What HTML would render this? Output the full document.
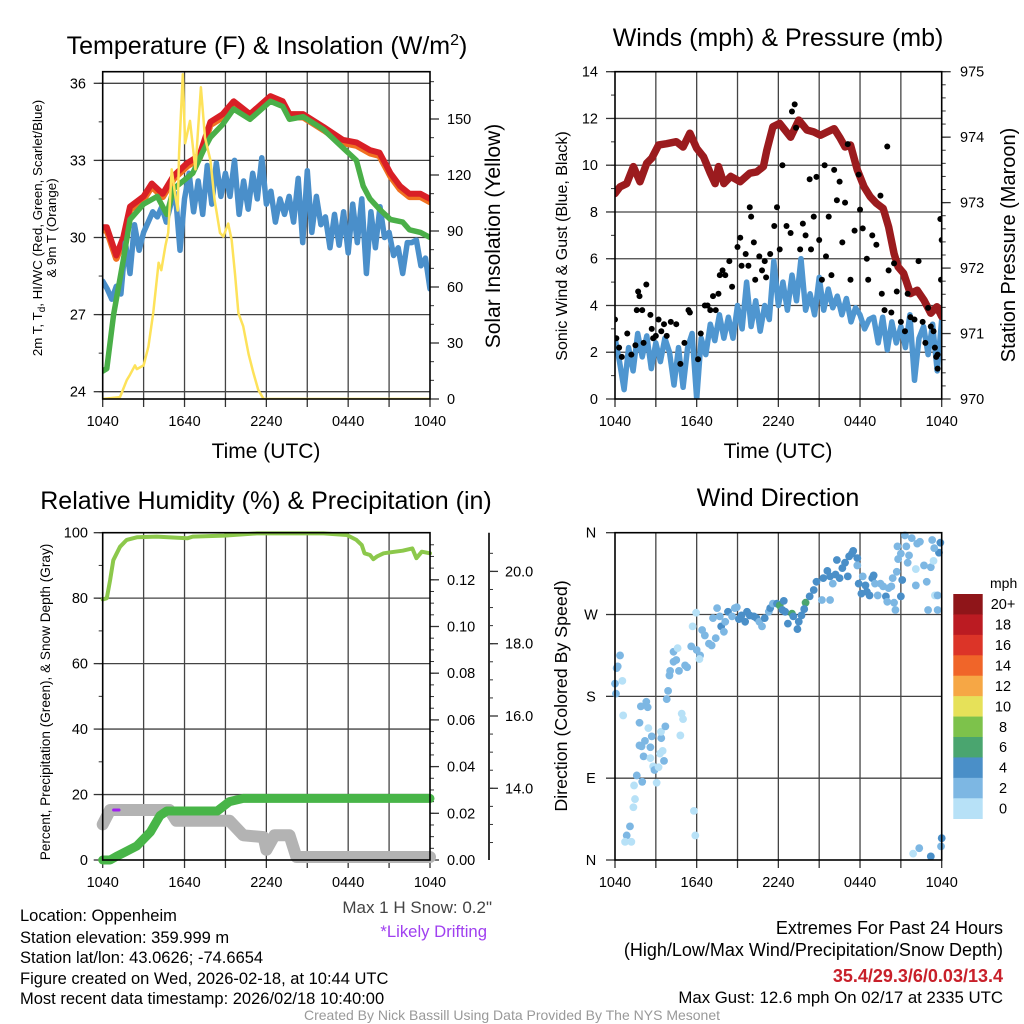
<!DOCTYPE html>
<html><head><meta charset="utf-8"><title>Meteogram</title>
<style>
html,body{margin:0;padding:0;background:#fff;}
svg{display:block;font-family:"Liberation Sans",Arial,sans-serif;}
</style></head>
<body>
<svg id="chart" width="1024" height="1024" viewBox="0 0 1024 1024" xmlns="http://www.w3.org/2000/svg">
<rect x="0" y="0" width="1024" height="1024" fill="#fff"/>
<defs>
<clipPath id="c1"><rect x="102.7" y="71.7" width="327.3" height="327.3"/></clipPath>
<clipPath id="c2"><rect x="615" y="71.7" width="326.7" height="327.3"/></clipPath>
<clipPath id="c3"><rect x="96" y="526" width="345" height="345"/></clipPath>
<clipPath id="c4"><rect x="609" y="526" width="340" height="340"/></clipPath>
</defs>
<!-- titles -->
<text x="267" y="54" font-size="25" text-anchor="middle">Temperature (F) &amp; Insolation (W/m<tspan dy="-9" font-size="16">2</tspan><tspan dy="9">)</tspan></text>
<text x="778" y="46" font-size="25" text-anchor="middle">Winds (mph) &amp; Pressure (mb)</text>
<text x="266" y="509" font-size="25" text-anchor="middle">Relative Humidity (%) &amp; Precipitation (in)</text>
<text x="778" y="506" font-size="25" text-anchor="middle">Wind Direction</text>
<!-- axis titles -->
<text x="266" y="458" font-size="21" text-anchor="middle">Time (UTC)</text>
<text x="778" y="458" font-size="21" text-anchor="middle">Time (UTC)</text>
<text transform="translate(42,228) rotate(-90)" font-size="13.3" text-anchor="middle">2m T, T<tspan dy="3" font-size="10">d</tspan><tspan dy="-3">, HI/WC (Red, Green, Scarlet/Blue)</tspan></text>
<text transform="translate(56,228) rotate(-90)" font-size="13.3" text-anchor="middle">&amp; 9m T (Orange)</text>
<text transform="translate(500,236) rotate(-90)" font-size="21" text-anchor="middle">Solar Insolation (Yellow)</text>
<text transform="translate(567,246) rotate(-90)" font-size="16" text-anchor="middle">Sonic Wind &amp; Gust (Blue, Black)</text>
<text transform="translate(1015,245) rotate(-90)" font-size="20" text-anchor="middle">Station Pressure (Maroon)</text>
<text transform="translate(50,702) rotate(-90)" font-size="13.6" text-anchor="middle">Percent, Precipitation (Green), &amp; Snow Depth (Gray)</text>
<text transform="translate(567,696) rotate(-90)" font-size="17.8" text-anchor="middle">Direction (Colored By Speed)</text>
<!-- info text -->
<g font-size="16.5" fill="#000">
<text x="20" y="921">Location: Oppenheim</text>
<text x="20" y="943">Station elevation: 359.999 m</text>
<text x="20" y="963">Station lat/lon: 43.0626; -74.6654</text>
<text x="20" y="984">Figure created on Wed, 2026-02-18, at 10:44 UTC</text>
<text x="20" y="1004">Most recent data timestamp: 2026/02/18 10:40:00</text>
</g>
<text x="492" y="913" font-size="17" fill="#444" text-anchor="end">Max 1 H Snow: 0.2"</text>
<text x="487" y="937" font-size="16.7" fill="#a040f0" text-anchor="end">*Likely Drifting</text>
<text x="1003" y="934" font-size="18" text-anchor="end">Extremes For Past 24 Hours</text>
<text x="1003" y="956" font-size="18" text-anchor="end">(High/Low/Max Wind/Precipitation/Snow Depth)</text>
<text x="1003" y="982" font-size="18" font-weight="bold" fill="#c8202a" text-anchor="end">35.4/29.3/6/0.03/13.4</text>
<text x="1003" y="1003" font-size="16.8" text-anchor="end">Max Gust: 12.6 mph On 02/17 at 2335 UTC</text>
<text x="512" y="1020" font-size="14" fill="#999" text-anchor="middle">Created By Nick Bassill Using Data Provided By The NYS Mesonet</text>
<text x="990" y="588" font-size="14">mph</text>
</svg>
<script>
// ---- Panel 1: temperature ----
const tempHours=[0,0.3,1.0,1.5,2.0,3.0,3.6,4.4,5.2,6.2,7.1,7.9,8.8,9.6,10.8,12.3,13.2,13.7,14.7,16.2,17.6,18.6,19.6,20.3,21.1,21.8,22.5,23.3,24];
const redTemp=[30.4,30.4,29.3,30.0,31.2,31.6,32.1,31.7,32.4,32.9,33.2,34.5,34.8,35.3,34.8,35.5,35.3,34.8,34.8,34.3,33.8,33.7,33.4,33.3,32.5,32.0,31.7,31.7,31.5];
const greenHours=[0,0.3,0.8,1.5,2.0,3.0,4.0,4.7,5.2,5.9,6.6,7.4,7.9,8.8,9.6,10.8,12.3,13.2,13.7,14.7,16.2,17.6,18.6,19.1,19.6,20.3,21.1,22.0,22.5,23.3,24];
const greenTemp=[24.8,24.9,27.0,29.1,30.7,31.3,31.6,30.9,31.9,32.2,32.5,33.4,33.9,34.4,35.0,34.6,35.3,35.1,34.6,34.7,34.2,33.5,33.0,32.0,31.5,31.1,30.7,30.6,30.3,30.2,30.0];
const blueTemp=[28.3,28.0,27.6,28.1,27.8,29.8,28.6,30.5,29.5,30.2,30.6,31.0,30.8,31.2,30.6,31.3,31.7,29.5,31.5,32.5,31.0,32.2,30.9,32.8,31.3,32.9,31.6,32.5,31.6,33.0,30.9,32.2,31.1,32.5,31.5,33.1,31.3,31.8,30.6,31.5,30.9,31.6,30.6,32.3,29.8,32.6,30.2,31.6,30.5,30.8,29.6,30.9,29.7,31.0,29.4,31.3,29.8,31.5,28.6,31.0,29.6,31.2,30.0,30.2,29.3,29.6,28.6,29.8,29.8,29.9,28.9,29.2,28.0];
const solarHours=[0,1.27,1.76,2.0,2.37,2.5,3.0,3.35,3.7,4.1,4.3,4.6,4.8,5.06,5.3,5.5,5.6,5.87,6.04,6.4,6.8,7.2,7.5,7.9,8.2,8.6,8.85,9.2,9.46,9.7,9.95,10.3,10.7,11.05,11.4,11.8,24];
const solarVals=[0,1,10,13,18,16,18,28,46,73,69,82,89,123,110,101,132,174,137,149,123,167,140,128,107,89,87,94,85,67,46,39,24,14,5,0,0];
const tempTicks=[24,27,30,33,36];
const solarTicks=[0,30,60,90,120,150];
const timeLabels=['1040','1640','2240','0440','1040'];
// ---- Panel 2: winds ----
const pressHours=[0,0.37,0.86,1.35,1.84,2.33,2.7,3.2,3.8,4.5,5.0,5.5,6.0,6.5,7.0,7.35,7.6,8.0,8.5,9.2,9.9,10.4,10.9,11.15,11.6,12.1,12.9,13.5,14.1,14.6,15.1,15.6,16.1,16.5,16.9,17.3,17.8,18.3,18.75,19.2,19.7,20.1,20.5,20.8,21.2,21.7,22.2,22.7,23.2,23.65,24];
const pressVals=[973.14,973.24,973.29,973.55,973.32,973.6,973.68,973.88,973.9,973.93,973.85,974.06,973.83,973.7,973.45,973.29,973.55,973.29,973.4,973.32,973.45,973.47,973.55,973.8,974.16,974.21,974.0,974.26,974.11,974.08,974.03,974.08,974.13,974.0,973.85,973.88,973.5,973.24,973.09,972.99,972.91,972.63,972.22,972.02,971.92,971.61,971.66,971.51,971.31,971.41,971.26];
const windVals=[2.6,1.6,0.4,2.2,1.2,2.8,1.8,2.7,1.3,2.4,1.6,2.6,2.0,0.6,2.2,0.5,2.2,2.8,0.0,2.6,1.9,3.2,2.5,3.6,2.6,3.5,2.6,4.0,3.0,5.0,3.1,4.2,2.9,4.0,3.4,5.9,4.0,5.0,3.8,5.3,4.2,6.0,3.8,4.5,3.6,5.2,3.8,4.7,3.9,4.4,3.6,4.3,3.3,3.9,3.6,3.0,3.4,3.5,2.4,3.5,2.1,3.3,2.4,3.1,2.2,3.6,0.8,2.6,3.1,1.9,3.2,1.2,3.4];
const gustHours=[0,0.1,0.3,0.5,0.9,1.2,1.5,1.6,1.7,1.8,2.0,2.1,2.3,2.6,2.7,2.8,3.0,3.2,3.4,3.6,3.8,4.1,4.5,4.8,5.1,5.4,5.5,6.1,6.3,6.6,6.8,7.0,7.2,7.4,7.6,7.7,7.9,8.1,8.4,8.6,9.0,9.2,9.3,9.6,9.8,9.9,10.0,10.2,10.3,10.6,10.8,11.0,11.1,11.4,11.7,11.9,12.1,12.3,12.6,12.9,13.0,13.2,13.3,13.6,13.8,14.0,14.3,14.4,14.6,14.8,15.0,15.2,15.4,15.5,15.7,15.9,16.1,16.3,16.5,16.7,16.9,17.1,17.3,17.6,17.9,18.0,18.2,18.5,18.6,18.9,19.2,19.5,19.6,19.8,20.0,20.1,20.3,20.5,20.7,21.0,21.3,21.5,21.7,22.0,22.3,22.6,22.8,23.0,23.2,23.4,23.6,23.7,23.9,24.0,23.95,23.7,23.5];
const gustVals=[3.4,2.6,2.2,1.8,2.8,1.9,2.3,3.8,4.6,4.4,3.8,2.4,4.9,3.6,3.0,2.6,2.7,3.4,2.9,3.2,2.7,3.3,3.2,1.5,2.4,3.8,3.7,1.7,2.8,4.0,4.0,3.8,4.4,3.8,4.5,5.3,5.5,5.3,5.9,4.8,6.5,6.9,5.7,6.2,5.7,8.2,7.8,6.7,5.1,6.1,5.5,5.9,5.2,6.2,7.4,8.2,6.4,10.0,7.4,7.1,12.3,12.6,11.6,6.4,7.5,7.0,9.4,6.4,7.8,9.5,6.8,5.1,10.0,6.1,7.8,5.3,9.8,8.5,9.3,6.7,8.4,10.9,5.1,7.2,9.6,8.1,7.3,6.0,5.1,7.0,6.6,8.7,4.5,3.8,10.8,5.5,3.7,5.8,4.6,3.3,2.9,4.5,3.5,3.4,5.9,3.3,2.4,3.9,3.1,2.9,1.8,1.9,7.7,6.8,5.1,1.3,2.2];
const windTicks=[0,2,4,6,8,10,12,14];
const pressTicks=[970,971,972,973,974,975];
// ---- Panel 3: humidity / precip / snow ----
const rhHours=[0,0.3,0.54,0.78,1.27,1.76,2.5,3.96,6.2,6.6,8.9,11.3,13.5,16.2,17.9,18.6,19.0,19.2,19.6,19.85,20.1,20.6,21.1,22.0,22.7,23.0,23.4,24];
const rhVals=[79.6,80,85.5,91.6,95.7,97.8,98.6,98.8,98.3,98.8,99.1,99.8,99.8,99.8,99.3,97.8,96.2,93.7,93.2,91.9,92.7,93.7,94.0,94.5,95.2,92.2,94.2,93.7];
const precipHours=[0,0.54,1.0,1.5,2.0,2.5,3.0,3.5,4.2,4.7,8.4,9.3,10.3,24];
const precipVals=[0,0,0.0015,0.003,0.0045,0.006,0.009,0.012,0.019,0.021,0.021,0.025,0.0264,0.0264];
const snowHours=[0,0.54,4.9,5.4,9.3,10.3,11.8,12.0,12.6,13.7,14.2,24];
const snowVals=[13.0,13.4,13.4,13.1,13.1,12.7,12.65,12.3,12.7,12.7,12.1,12.1];
const rhTicks=[0,20,40,60,80,100];
const precipTicks=['0.00','0.02','0.04','0.06','0.08','0.10','0.12'];
const snowTicks=['14.0','16.0','18.0','20.0'];
// ---- Panel 4: wind direction ----
const dirHours=[0,0.12,0.37,0.2,0.54,0.6,0.07,1.1,0.86,0.74,1.2,1.35,1.47,1.4,1.6,2.0,2.1,1.8,1.95,2.2,2.6,2.6,2.45,2.7,1.8,1.9,2.3,2.4,2.8,2.9,3.06,3.2,3.3,3.5,3.4,3.38,3.6,3.7,3.8,3.9,4.0,4.05,4.3,4.3,4.6,4.5,4.7,4.9,5.0,4.8,5.15,5.3,5.6,5.7,5.96,5.8,5.9,6.0,6.25,6.2,6.4,6.6,6.9,7.1,7.4,7.2,7.5,7.8,7.7,8.0,8.1,8.3,8.6,8.8,8.95,9.1,9.3,9.56,9.7,9.9,10.2,10.4,10.6,10.8,11.0,11.3,11.4,11.6,11.9,12.1,12.4,12.3,12.5,12.7,13.0,13.1,13.4,13.5,13.7,14.0,13.9,14.3,14.6,14.8,15.2,15.8,15.3,15.6,15.8,16.0,16.2,16.3,16.5,16.7,16.9,17.1,17.2,17.4,17.5,17.8,17.8,17.9,18.1,18.2,18.4,18.5,18.7,18.9,19.0,19.1,19.3,19.5,19.7,19.9,20.0,20.1,20.3,20.4,20.5,20.6,20.7,20.8,20.75,21.0,21.1,21.0,21.3,21.4,21.5,21.6,21.8,22.1,22.1,22.2,22.4,22.7,22.9,23.0,23.2,23.3,23.4,23.5,23.7,23.7,23.8,23.9,23.45,21.9,22.35,23.2,23.95,24.0];
const dirVals=[194,211,225,213,197,159,183,37,27,20,20,58,67,82,93,86,114,126,125,131,112,124,145,136,151,169,174,168,103,99,85,102,117,120,134,141,109,147,177,186,203,208,218,229,233,220,208,161,155,137,214,212,235,257,272,54,27,231,225,221,253,247,238,236,244,266,277,257,268,251,262,273,268,277,278,265,269,262,273,269,268,266,262,257,266,273,277,282,282,280,285,275,273,260,271,268,254,262,269,283,276,290,297,306,286,286,310,318,312,304,314,330,310,321,327,312,334,337,340,332,324,304,293,312,302,295,291,310,313,304,291,304,301,290,284,299,301,310,283,275,317,331,345,337,308,290,357,345,327,335,354,320,302,348,350,324,306,275,322,352,329,291,275,291,338,349,343,7,13,4,15,24];
const dirSpeed=[2,2,2,2,0,0,2,2,2,0,0,0,0,0,2,2,2,2,2,2,0,2,0,2,2,2,2,2,0,2,0,0,0,0,2,0,2,2,2,2,2,2,2,2,0,2,2,0,0,0,2,2,2,0,0,0,0,2,2,0,2,2,2,2,2,2,2,4,2,2,2,4,2,2,2,4,4,4,4,4,4,4,2,2,4,2,4,2,4,6,4,4,4,4,6,4,4,4,4,6,4,4,4,4,2,2,4,4,4,2,4,4,4,4,4,4,4,4,4,4,2,4,4,2,4,4,4,4,4,2,2,2,2,4,2,2,2,2,2,2,2,2,2,2,4,4,2,2,2,2,2,0,2,2,2,2,2,2,2,2,0,0,2,2,4,4,2,0,2,4,2,4];
const speedLabels=['20+','18','16','14','12','10','8','6','4','2','0'];
const speedColors=['#8f1519','#bb1b22','#dc3428','#f06529','#f6a745','#e6e159','#7dc24b','#4aa56f','#4a8fc8','#7db7e3','#b7e1f7'];

const NS='http://www.w3.org/2000/svg';
const svg=document.getElementById('chart');
function mk(tag,attrs,parent){const e=document.createElementNS(NS,tag);for(const k in attrs)e.setAttribute(k,attrs[k]);(parent||svg).appendChild(e);return e;}
function lin(d0,d1,r0,r1){return v=>r0+(v-d0)*(r1-r0)/(d1-d0);}
function pathD(xs,ys,sx,sy){return xs.map((h,i)=>(i?'L':'M')+sx(h).toFixed(1)+','+sy(ys[i]).toFixed(1)).join('');}
function idxHours(n){const a=[];for(let i=0;i<n;i++)a.push(i*24/(n-1));return a;}

function frame(x0,x1,y0,y1,gridYs,name){
  const g=mk('g',{});
  
  
  for(let k=1;k<8;k++){const x=x0+(x1-x0)*k/8;const l=mk('line',{x1:x,x2:x,y1:y0,y2:y1,stroke:'#444','stroke-width':1.3},g);
    
    }
  gridYs.forEach(y=>{const l=mk('line',{x1:x0,x2:x1,y1:y,y2:y,stroke:'#444','stroke-width':1.3},g);
    
    });
  for(let k=0;k<=8;k++){const x=x0+(x1-x0)*k/8;const t=mk('line',{x1:x,x2:x,y1:y1,y2:y1+8,stroke:'#333','stroke-width':1.3},g);
    
    }
  timeLabels.forEach((s,i)=>{const t=mk('text',{x:x0+(x1-x0)*i/4,y:y1+27,'font-size':14.5,'text-anchor':'middle'},g);t.textContent=s;
    
    });
}
function border(x0,x1,y0,y1,name){
  const r=mk('rect',{x:x0,y:y0,width:x1-x0,height:y1-y0,fill:'none',stroke:'#000','stroke-width':1.6});
  
  
}
function yAxis(ticks,sy,x,dir,labelX,anchor,minorStep,lo,hi,name){
  const g=mk('g',{});
  
  
  if(minorStep){for(let v=lo;v<=hi+1e-9;v+=minorStep){const y=sy(v);mk('line',{x1:x,x2:x+dir*4,y1:y,y2:y,stroke:'#333','stroke-width':1},g);}}
  ticks.forEach(tv=>{const v=parseFloat(tv);const y=sy(v);
    const l=mk('line',{x1:x,x2:x+dir*9,y1:y,y2:y,stroke:'#333','stroke-width':1.3},g);
    
    
    const t=mk('text',{x:labelX,y:y+5,'font-size':14.5,'text-anchor':anchor},g);t.textContent=tv;
    
    });
}

// ===== Panel 1 =====
(function(){
  const x0=102.7,x1=430,y0=71.7,y1=399;
  const sx=lin(0,24,x0,x1), sy=lin(24,36,391.7,83.3), ss=lin(0,150,399,119);
  frame(x0,x1,y0,y1,tempTicks.map(sy),'temperature');
  yAxis(tempTicks,sy,x0,-1,86,'end',1.5,24,36,'temperature-y-axis');
  yAxis(solarTicks,ss,x1,1,447,'start',10,0,170,'solar-y-axis');
  const g=mk('g',{'clip-path':'url(#c1)'});
  
  
  const orange=mk('path',{d:pathD(tempHours,redTemp.map(v=>v-0.12),sx,sy),fill:'none',stroke:'#f07020','stroke-width':6.5,'stroke-linejoin':'round','stroke-linecap':'round'},g);
  
  
  const red=mk('path',{d:pathD(tempHours,redTemp,sx,sy),fill:'none',stroke:'#d91f26','stroke-width':6,'stroke-linejoin':'round','stroke-linecap':'round'},g);
  
  
  const blue=mk('path',{d:pathD(idxHours(blueTemp.length),blueTemp,sx,sy),fill:'none',stroke:'#4a8fca','stroke-width':5.5,'stroke-linejoin':'round','stroke-linecap':'round'},g);
  
  
  const green=mk('path',{d:pathD(greenHours,greenTemp,sx,sy),fill:'none',stroke:'#4aaf48','stroke-width':5.5,'stroke-linejoin':'round','stroke-linecap':'round'},g);
  
  
  const sol=mk('path',{d:pathD(solarHours,solarVals,sx,ss),fill:'none',stroke:'#fde25a','stroke-width':2.5,'stroke-linejoin':'round'},g);
  
  
  border(x0,x1,y0,y1,'temperature');
})();

// ===== Panel 2 =====
(function(){
  const x0=615,x1=941.7,y0=71.7,y1=399;
  const sx=lin(0,24,x0,x1), sw=lin(0,14,399,71.7), sp=lin(970,975,399,71.7);
  frame(x0,x1,y0,y1,windTicks.slice(1,7).map(sw),'winds');
  yAxis(windTicks,sw,x0,-1,598,'end',1,0,14,'wind-y-axis');
  yAxis(pressTicks,sp,x1,1,960,'start',0.2,970,975,'pressure-y-axis');
  const g=mk('g',{'clip-path':'url(#c2)'});
  
  
  const w=mk('path',{d:pathD(idxHours(windVals.length),windVals,sx,sw),fill:'none',stroke:'#4f96d0','stroke-width':5.5,'stroke-linejoin':'round','stroke-linecap':'round'},g);
  
  
  const p=mk('path',{d:pathD(pressHours,pressVals,sx,sp),fill:'none',stroke:'#9b1b1e','stroke-width':7.5,'stroke-linejoin':'round','stroke-linecap':'round'},g);
  
  
  gustHours.forEach((h,i)=>{const c=mk('circle',{cx:sx(h),cy:sw(gustVals[i]),r:3,fill:'#000'},g);
    
    });
  border(x0,x1,y0,y1,'winds');
})();

// ===== Panel 3 =====
(function(){
  const x0=102.7,x1=430,y0=532.7,y1=860;
  const sx=lin(0,24,x0,x1), sr=lin(0,100,860,532.7), sp=lin(0,0.02,860,813.3), sn=lin(14,16,788.3,716);
  frame(x0,x1,y0,y1,rhTicks.slice(1,5).map(sr),'humidity');
  yAxis(rhTicks,sr,x0,-1,88,'end',10,0,100,'humidity-y-axis');
  yAxis(precipTicks,sp,x1,1,447,'start',0.005,0,0.135,'precip-y-axis');
  const ax=mk('line',{x1:489,x2:489,y1:532.7,y2:860,stroke:'#000','stroke-width':1.6});
  
  
  yAxis(snowTicks,sn,489,1,505,'start',0.5,12.5,20.5,'snow-y-axis');
  const g=mk('g',{'clip-path':'url(#c3)'});
  
  
  const s=mk('path',{d:pathD(snowHours,snowVals,sx,sn),fill:'none',stroke:'#b3b3b3','stroke-width':12,'stroke-linejoin':'round','stroke-linecap':'round'},g);
  
  
  const pr=mk('path',{d:pathD(precipHours,precipVals,sx,sp),fill:'none',stroke:'#48b548','stroke-width':9,'stroke-linejoin':'round','stroke-linecap':'round'},g);
  
  
  const rh=mk('path',{d:pathD(rhHours,rhVals,sx,sr),fill:'none',stroke:'#8cc84b','stroke-width':4,'stroke-linejoin':'round','stroke-linecap':'round'},g);
  
  
  const dr=mk('line',{x1:sx(0.8),x2:sx(1.2),y1:sn(13.4),y2:sn(13.4),stroke:'#a020f0','stroke-width':3,'stroke-linecap':'round'},g);
  
  
  border(x0,x1,y0,y1,'humidity');
})();

// ===== Panel 4 =====
(function(){
  const x0=615,x1=941.7,y0=532.7,y1=860;
  const sx=lin(0,24,x0,x1), sd=lin(0,360,860,532.7);
  const dirLabels=['N','E','S','W','N'];
  frame(x0,x1,y0,y1,[90,180,270].map(sd),'direction');
  const g0=mk('g',{});
  
  
  dirLabels.forEach((s,i)=>{const y=sd(i*90);
    mk('line',{x1:x0-9,x2:x0,y1:y,y2:y,stroke:'#333','stroke-width':1.3},g0);
    const t=mk('text',{x:591,y:y+5,'font-size':14.5,'text-anchor':'middle'},g0);t.textContent=s;
    
    });
  const g=mk('g',{'clip-path':'url(#c4)'});
  
  
  dirHours.forEach((h,i)=>{const ci=10-Math.min(10,Math.round(dirSpeed[i]/2));
    const c=mk('circle',{cx:sx(h),cy:sd(dirVals[i]),r:3.9,fill:speedColors[ci]},g);
    
    });
  border(x0,x1,y0,y1,'direction');
  const cb=mk('g',{});
  
  
  const bh=(818.7-594)/speedColors.length;
  speedColors.forEach((c,i)=>{const r=mk('rect',{x:953.3,y:594+i*bh,width:29.4,height:bh+0.3,fill:c},cb);
    
    
    const t=mk('text',{x:1003,y:594+i*bh+bh/2+5,'font-size':14.5,'text-anchor':'middle'},cb);t.textContent=speedLabels[i];
    
    });
})();
</script>
</body></html>
